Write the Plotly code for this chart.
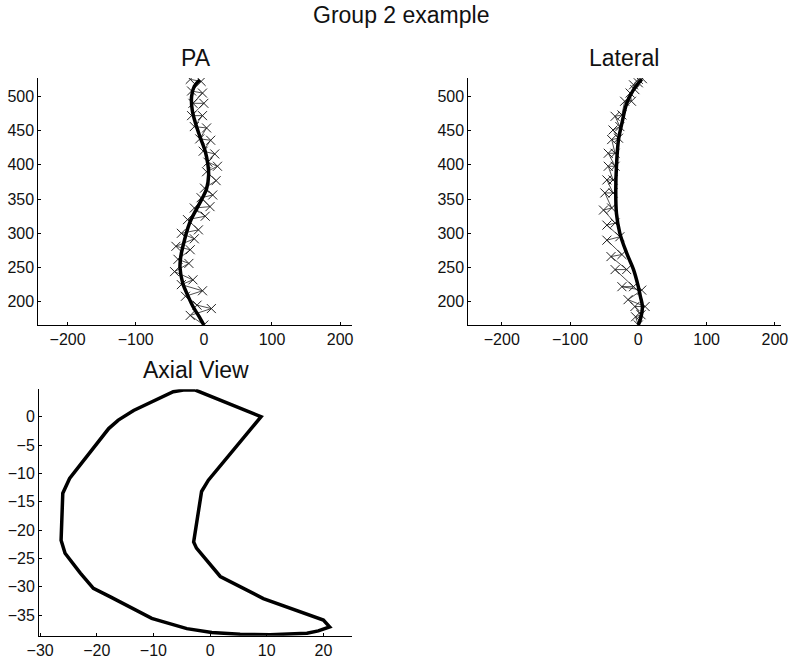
import plotly.graph_objects as go

# PA view: smoothed curve and raw points
pa_fit_x = [0, -8, -16, -24, -31, -35, -34, -31, -21, -11, -3, 4, 7, 6, 2, -6, -12, -17, -18, -14, -6]
pa_fit_y = [166, 180, 193, 210, 227, 250, 265, 280, 315, 335, 350, 365, 385, 400, 420, 442, 460, 480, 500, 515, 524]
pa_raw_x = [0, -20, 11, -10, -27, -2, -33, -16, -43, -22, -38, -20, -41, -14, -33, -8, -24, 2, -14, 9, -4,
            13, 1, 18, 4, 20, 6, 16, -1, 10, -6, 4, -14, -2, -18, 0, -16, -2, -18, -4, -20]
pa_raw_y = [166, 180, 190, 195, 208, 216, 225, 232, 244, 256, 262, 276, 281, 292, 300, 305, 320, 325, 337, 339, 352,
            356, 366, 377, 390, 398, 404, 416, 420, 436, 438, 454, 456, 472, 472, 490, 490, 505, 508, 522, 525]

# Lateral view
lat_fit_x = [0, 4, 6, 3, 0, -7, -17, -27, -32, -33, -32, -29, -24, -17, -7, 5]
lat_fit_y = [166, 178, 193, 208, 222, 247, 271, 300, 329, 364, 398, 437, 461, 490, 510, 525]
lat_raw_x = [0, -4, 4, -5, 10, -15, 5, -24, -7, -34, -17, -40, -24, -46, -27, -46, -34, -51, -39, -49, -37,
             -46, -37, -44, -34, -44, -34, -39, -29, -37, -27, -34, -24, -20, -10, -12, -5, -7, 0, 0, 6]
lat_raw_y = [166, 178, 181, 193, 193, 203, 217, 222, 222, 247, 247, 266, 269, 290, 295, 312, 315, 334, 337, 359, 359,
             378, 378, 398, 398, 417, 417, 437, 439, 451, 456, 471, 473, 493, 493, 505, 510, 517, 520, 525, 526]

# Axial view outline (closed)
ax_x = [-2.6, 9.0, -0.3, -1.5, -2.9, -2.4, 1.8, 4.1, 9.4, 20.0, 21.1, 19.1, 17.1, 10.6, 5.3, 0.3, -4.1, -8.2,
        -10.3, -17.6, -20.6, -22.9, -25.6, -26.3, -26.0, -24.8, -17.9, -16.2, -13.5, -6.5, -4.7, -2.6]
ax_y = [4.7, 0.0, -11.2, -13.2, -22.1, -23.2, -28.2, -29.4, -32.1, -35.9, -37.1, -37.8, -38.2, -38.5, -38.4, -38.1,
        -37.4, -36.2, -35.6, -31.8, -30.3, -27.6, -24.1, -21.8, -13.5, -10.9, -2.1, -0.6, 1.1, 4.4, 4.7, 4.7]

font = "Liberation Sans, Arial, Helvetica, sans-serif"
W, H = 800, 665

fig = go.Figure()

def raw_trace(x, y, xa, ya):
    return go.Scatter(x=x, y=y, xaxis=xa, yaxis=ya, mode='lines+markers',
                      line=dict(color='#222222', width=0.8),
                      marker=dict(symbol='x-thin', size=9, line=dict(color='#222222', width=1)),
                      showlegend=False, hoverinfo='skip')

def fit_trace(x, y, xa, ya):
    return go.Scatter(x=x, y=y, xaxis=xa, yaxis=ya, mode='lines', line=dict(color='black', width=3.5, shape='spline'),
                      showlegend=False)

fig.add_trace(raw_trace(pa_raw_x, pa_raw_y, 'x', 'y'))
fig.add_trace(fit_trace(pa_fit_x, pa_fit_y, 'x', 'y'))
fig.add_trace(raw_trace(lat_raw_x, lat_raw_y, 'x2', 'y2'))
fig.add_trace(fit_trace(lat_fit_x, lat_fit_y, 'x2', 'y2'))
fig.add_trace(go.Scatter(x=ax_x, y=ax_y, xaxis='x3', yaxis='y3', mode='lines',
                         line=dict(color='black', width=3.5), showlegend=False))

def axis(domain, rng, anchor, dtick):
    return dict(domain=domain, range=rng, anchor=anchor, dtick=dtick, showline=True, linecolor='black',
                linewidth=1, mirror=False, showgrid=False, zeroline=False, ticks='inside', ticklen=3,
                tickcolor='black', automargin=False,
                tickfont=dict(family=font, size=16, color='#111111'))

fig.update_layout(
    width=W, height=H,
    margin=dict(l=0, r=0, t=0, b=0),
    plot_bgcolor='white', paper_bgcolor='white',
    xaxis=axis([38.3 / W, 351.7 / W], [-243, 217], 'y', 100),
    yaxis=axis([1 - 325 / H, 1 - 78 / H], [166, 527], 'x', 50),
    xaxis2=axis([468.3 / W, 781 / W], [-249, 209], 'y2', 100),
    yaxis2=axis([1 - 325 / H, 1 - 78 / H], [166, 527], 'x2', 50),
    xaxis3=axis([39 / W, 351.7 / W], [-30.2, 25], 'y3', 10),
    yaxis3=axis([1 - 635.7 / H, 1 - 389.3 / H], [-38.65, 4.83], 'x3', 5),
)

titles = [("Group 2 example", 401, 15, 23), ("PA", 196, 58, 23), ("Lateral", 624, 58, 23), ("Axial View", 196, 370, 23)]
for text, px, py, sz in titles:
    fig.add_annotation(text=text, x=px / W, y=1 - py / H, xref='paper', yref='paper', showarrow=False,
                       xanchor='center', yanchor='middle', font=dict(family=font, size=sz, color='#111111'))

# drop the default page margin so the figure sits at the window corner
fig.write_html("out.html", config={'displayModeBar': False},
               post_script="document.body.style.margin='0';")
